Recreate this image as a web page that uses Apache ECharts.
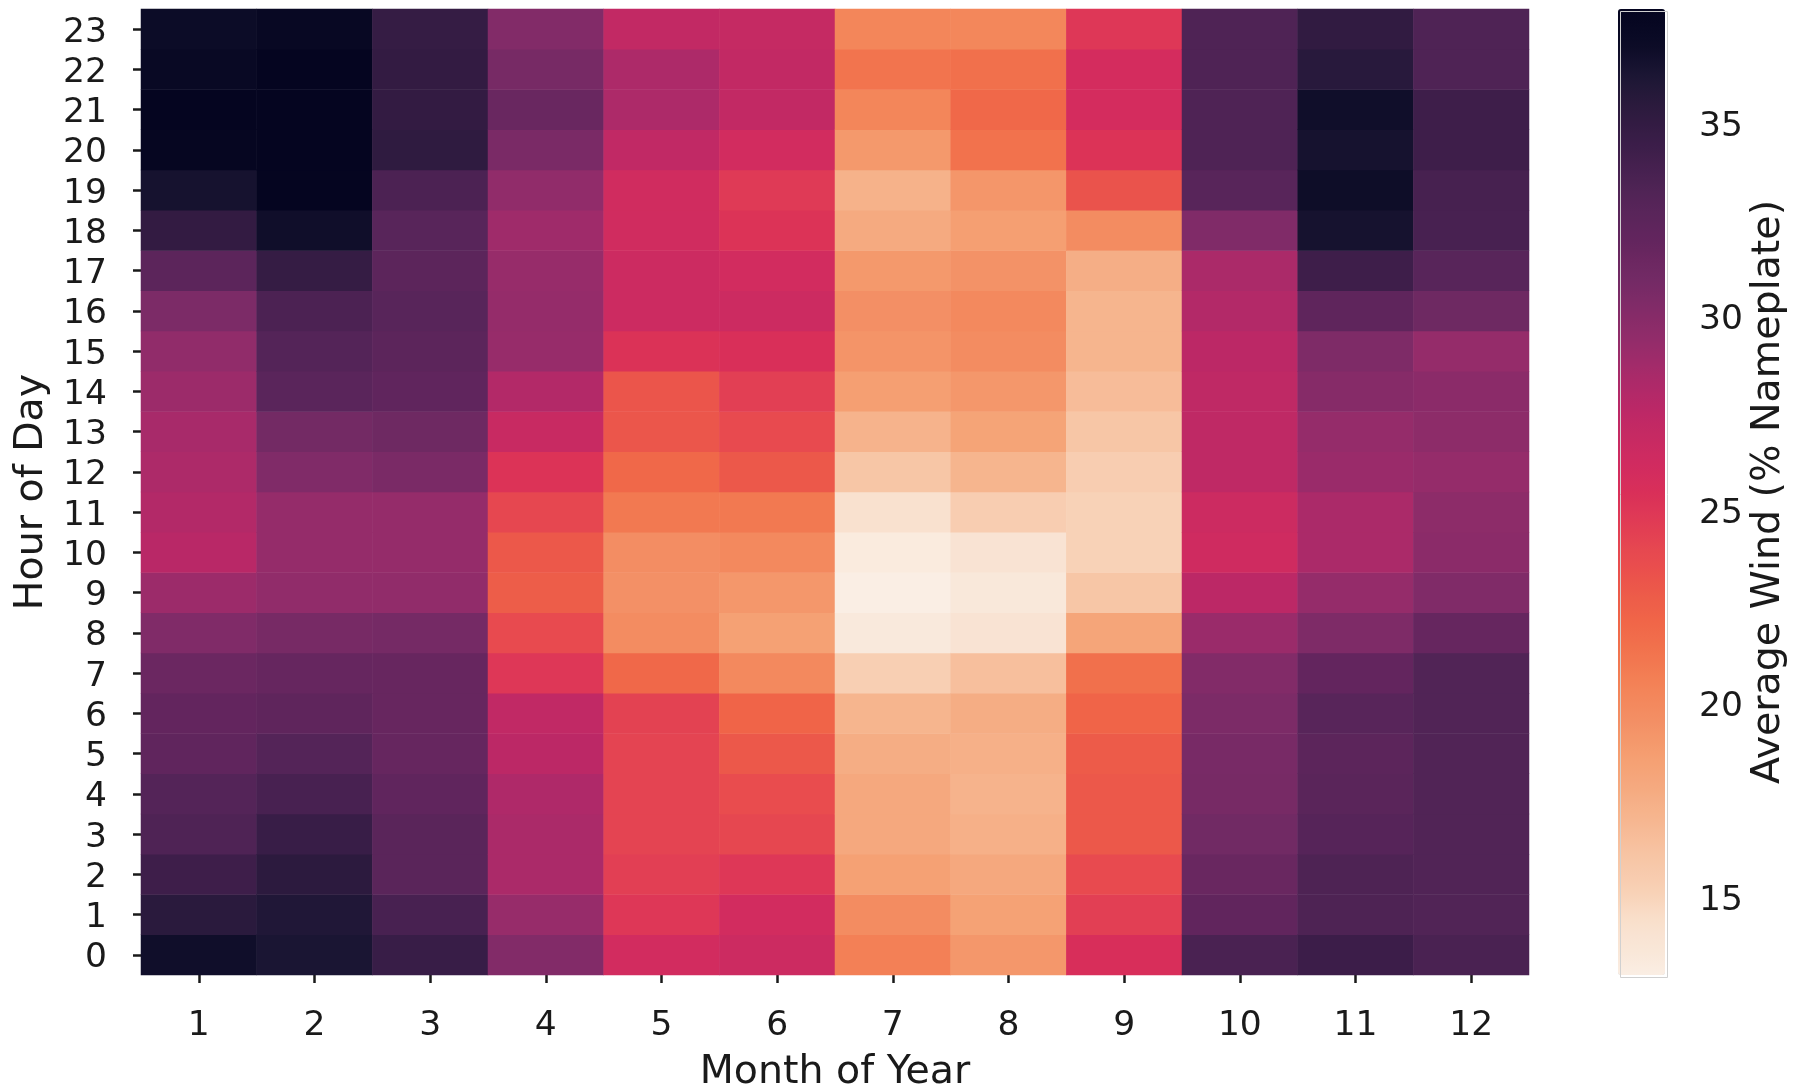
<!DOCTYPE html>
<html>
<head>
<meta charset="utf-8">
<script src="https://cdn.jsdelivr.net/npm/echarts@6/dist/echarts.min.js"></script>
<style>
html,body{margin:0;padding:0;background:#fff;}
#chart{width:1799px;height:1086px;}
</style>
</head>
<body>
<div id="chart"></div>
<script>
// Categories
const months = ['1','2','3','4','5','6','7','8','9','10','11','12'];
const hours = ['0','1','2','3','4','5','6','7','8','9','10','11','12','13','14','15','16','17','18','19','20','21','22','23'];

// Average wind (% nameplate), per month, hours 0..23
const jan = [36.8,35.5,34.3,33.3,33.0,32.2,32.0,31.5,30.3,29.0,27.7,28.0,28.3,28.5,29.0,29.5,30.5,32.5,35.0,36.5,37.8,37.9,37.3,37.0];
const feb = [36.3,36.0,35.4,34.6,33.7,33.0,32.3,31.8,30.8,29.5,29.3,29.3,30.3,31.0,32.6,33.0,33.5,34.8,36.8,37.9,37.95,37.95,37.9,37.4];
const mar = [34.6,33.7,32.7,32.7,32.2,31.8,31.7,31.7,30.9,29.5,29.3,29.3,30.6,31.3,32.2,32.5,32.8,32.5,32.8,33.5,35.2,35.0,35.0,34.8];
const apr = [30.2,29.2,28.4,28.4,28.2,27.6,27.3,25.0,23.8,22.7,23.0,24.0,25.2,26.8,28.0,29.2,29.3,29.2,28.9,29.5,30.6,31.6,30.8,30.2];
const may = [26.0,25.0,24.5,24.2,24.2,24.2,24.3,22.0,19.8,19.5,19.7,21.0,22.0,23.1,23.2,25.3,26.5,26.5,26.2,26.2,27.3,28.3,28.3,27.2];
const jun = [26.5,26.0,25.0,24.0,23.7,23.0,22.2,20.0,18.5,19.1,20.0,21.0,23.0,23.8,24.5,25.5,26.5,26.0,25.2,24.8,26.0,27.2,27.2,27.0];
const jul = [20.6,19.8,18.5,17.9,17.9,17.6,17.1,15.3,13.4,13.0,13.3,14.2,16.0,17.2,18.6,19.3,19.6,19.0,17.8,17.3,19.0,20.3,21.3,20.3];
const aug = [19.1,18.4,17.9,17.4,17.2,17.4,17.6,16.4,14.0,13.5,14.0,15.4,17.1,18.3,19.1,19.8,20.0,19.4,18.6,19.2,21.4,22.0,21.5,20.2];
const sep = [25.6,24.5,23.8,23.0,23.0,22.8,22.2,21.5,18.2,16.0,15.1,15.1,15.4,16.0,16.6,17.1,17.1,17.5,19.8,23.3,25.2,25.9,25.9,25.0];
const oct = [33.6,32.1,31.6,31.1,30.8,30.7,30.5,30.2,29.1,27.6,26.3,26.5,27.4,27.4,27.4,27.6,28.0,28.4,30.3,32.8,33.3,33.3,33.3,33.3];
const nov = [34.4,33.4,33.4,32.9,32.7,32.5,32.8,32.0,30.4,29.3,28.4,28.4,29.1,29.3,30.0,30.4,32.3,34.3,36.5,36.9,36.5,36.8,35.6,35.1];
const dec = [33.6,33.2,33.2,33.2,33.2,33.2,33.2,33.2,31.8,30.3,29.8,29.7,29.3,29.7,29.8,29.3,31.3,32.8,33.7,33.8,34.3,34.3,33.3,33.3];

// Colorbar ticks and range
const cbTicks = [15, 20, 25, 30, 35];
const vMin = 13.0;
const vMax = 37.95;

const monthly = [jan, feb, mar, apr, may, jun, jul, aug, sep, oct, nov, dec];
const data = [];
monthly.forEach((arr, m) => arr.forEach((v, h) => data.push([m, h, v])));

// colour map stops (value, colour) (rocket_r look)
const cmapVals = [13.0,13.5,14.4,15.2,16.1,17.0,17.8,18.7,19.5,20.4,21.3,22.1,23.0,23.8,24.7,25.4,25.9,26.8,27.6,28.5,29.35,30.2,31.05,31.9,32.8,33.6,34.5,35.4,36.2,37.1,37.95];
const cmapCols = ['#faeee4','#f9e8da','#f9e0cc','#f8d0b5','#f7c4a4','#f6b690','#f5aa80','#f59e70','#f39066','#f38458','#f2744e','#f06648','#ec584a','#e84a4f','#e03c55','#da3058','#d42c5e','#c82a62','#bc2866','#a82a6a','#942c6a','#822b68','#722a64','#64255e','#58255a','#4a2252','#3a1d48','#2c1a3e','#1c1634','#0a0a25','#050520'];

function hexToRgb(h){ return [parseInt(h.substr(1,2),16), parseInt(h.substr(3,2),16), parseInt(h.substr(5,2),16)]; }
function colourAt(v){
  for (let i = 0; i < cmapVals.length - 1; i++) {
    if (v <= cmapVals[i+1]) {
      const t = (v - cmapVals[i]) / (cmapVals[i+1] - cmapVals[i]);
      const a = hexToRgb(cmapCols[i]), b = hexToRgb(cmapCols[i+1]);
      return 'rgb(' + a.map((c, k) => Math.round(c + (b[k]-c)*t)).join(',') + ')';
    }
  }
  return cmapCols[cmapCols.length-1];
}
const rampN = 120;
const ramp = [];
for (let i = 0; i <= rampN; i++) ramp.push(colourAt(vMin + (vMax - vMin) * i / rampN));

const txt = '#1a1a1a';
const font = 'DejaVu Sans';
const richLbl = {a: {fontSize: 34.5, color: txt, fontFamily: font, padding: [7, 0, 0, 0]}};
const chart = echarts.init(document.getElementById('chart'), null, {renderer: 'canvas'});
chart.setOption({
  animation: false,
  backgroundColor: '#ffffff',
  textStyle: {fontFamily: font, color: txt},
  grid: [
    {left: 141, top: 9, width: 1388, height: 966, containLabel: false, outerBoundsMode: 'none'},
    {left: 1618, top: 9, width: 47, height: 966, containLabel: false, outerBoundsMode: 'none'}
  ],
  xAxis: [
    {
      type: 'category', gridIndex: 0, data: months,
      axisLine: {show: false},
      axisTick: {show: true, alignWithLabel: true, interval: 0, length: 8, lineStyle: {color: txt, width: 2.5}},
      axisLabel: {fontSize: 34.5, color: txt, margin: 34, interval: 0, fontFamily: font},
      splitLine: {show: false},
      name: 'Month of Year', nameLocation: 'middle', nameGap: 78,
      nameTextStyle: {fontSize: 39.5, color: txt, fontFamily: font}
    },
    {type: 'value', gridIndex: 1, show: false, min: 0, max: 1}
  ],
  yAxis: [
    {
      type: 'category', gridIndex: 0, data: hours,
      axisLine: {show: false},
      axisTick: {show: true, alignWithLabel: true, interval: 0, length: 8, lineStyle: {color: txt, width: 2.5}},
      axisLabel: {fontSize: 34.5, color: txt, margin: 34, interval: 0, fontFamily: font,
                  formatter: '{a|{value}}', rich: richLbl},
      splitLine: {show: false},
      name: 'Hour of Day', nameLocation: 'middle', nameGap: 87, nameRotate: 90,
      nameTextStyle: {fontSize: 39.5, color: txt, fontFamily: font}
    },
    {
      type: 'value', gridIndex: 1, position: 'right', min: vMin, max: vMax,
      axisLine: {show: false},
      axisTick: {show: true, customValues: cbTicks, length: 9, lineStyle: {color: txt, width: 2.5}},
      axisLabel: {customValues: cbTicks, fontSize: 34.5, color: txt, margin: 34, fontFamily: font,
                  formatter: '{a|{value}}', rich: richLbl},
      splitLine: {show: false},
      name: 'Average Wind (% Nameplate)', nameLocation: 'middle', nameGap: 84, nameRotate: 90,
      nameTextStyle: {fontSize: 39.5, color: txt, fontFamily: font}
    }
  ],
  visualMap: {
    type: 'continuous', min: vMin, max: vMax, dimension: 2, seriesIndex: 0,
    left: 1618, top: 9, itemWidth: 47, itemHeight: 966, padding: 0,
    calculable: false, hoverLink: false, realtime: false,
    text: null, showLabel: false,
    inRange: {color: ramp}
  },
  graphic: [{
    type: 'rect', left: 1618, top: 9, z: 100,
    shape: {width: 47, height: 966},
    style: {fill: 'none', stroke: '#d0d0d0', lineWidth: 1}
  }],
  series: [{
    type: 'heatmap', xAxisIndex: 0, yAxisIndex: 0, data: data,
    itemStyle: {borderWidth: 0},
    emphasis: {disabled: true}
  }]
});
</script>
</body>
</html>
